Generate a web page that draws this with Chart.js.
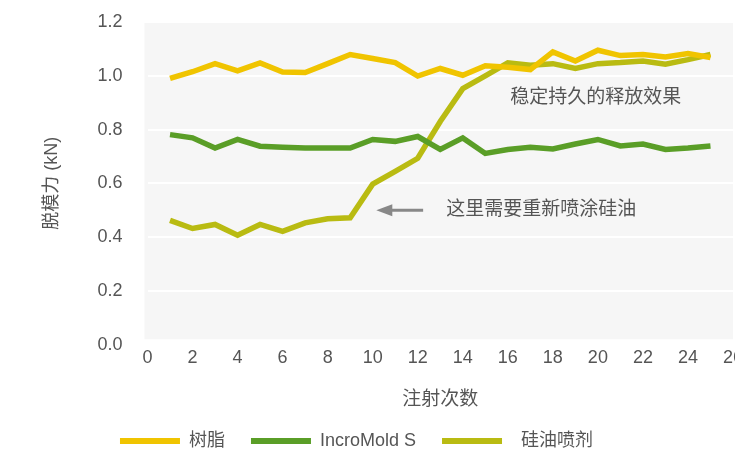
<!DOCTYPE html>
<html>
<head>
<meta charset="utf-8">
<script src="https://cdn.jsdelivr.net/npm/chart.js@4"></script>
<style>
    html, body { margin: 0; padding: 0; background: #ffffff; }
    #wrap { width: 735px; height: 457px; }
</style>
</head>
<body>
<div id="wrap"><canvas id="chart"></canvas></div>
<script>
// Injection count (x) and release force values (kN)
const shots = [1, 2, 3, 4, 5, 6, 7, 8, 9, 10, 11, 12, 13, 14, 15, 16, 17, 18, 19, 20, 21, 22, 23, 24, 25];
const resin = [0.99, 1.015, 1.045, 1.018, 1.048, 1.014, 1.012, 1.045, 1.079, 1.064, 1.049, 0.999, 1.027,
               1.002, 1.037, 1.032, 1.023, 1.089, 1.055, 1.095, 1.075, 1.079, 1.07, 1.083, 1.068];
const incroMold = [0.781, 0.769, 0.731, 0.763, 0.738, 0.734, 0.731, 0.731, 0.731, 0.763, 0.756, 0.774, 0.726,
                   0.769, 0.711, 0.726, 0.734, 0.728, 0.746, 0.763, 0.739, 0.746, 0.726, 0.731, 0.739];
const siliconeSpray = [0.462, 0.432, 0.447, 0.407, 0.447, 0.421, 0.453, 0.468, 0.472, 0.597, 0.644, 0.693, 0.83,
                       0.952, 1.0, 1.048, 1.039, 1.045, 1.027, 1.045, 1.049, 1.055, 1.043, 1.06, 1.079];
const seriesNames = ['树脂', 'IncroMold S', '  硅油喷剂'];
const seriesColors = ['#f0c400', '#5a9e27', '#b9bb12'];

// Annotation texts, anchored in data coordinates
const noteStable = { text: '稳定持久的释放效果', x: 19.9, y: 0.92 };
const noteRespray = { text: '这里需要重新喷涂硅油', x: 13.27, y: 0.50 };
const arrowFrom = { x: 12.24, y: 0.50 };
const arrowTo = { x: 10.16, y: 0.50 };

const fontFamily = '"Liberation Sans", "Noto Sans CJK SC", sans-serif';
const textColor = '#555555';

// Grey plot background drawn before the grid
const plotBackground = {
    id: 'plotBackground',
    beforeDraw(chart) {
        const { ctx, chartArea, scales } = chart;
        ctx.save();
        ctx.fillStyle = '#f6f6f6';
        const bottom = scales.y.getPixelForValue(0.02);
        ctx.fillRect(chartArea.left - 3, chartArea.top + 1, chartArea.right - chartArea.left + 3, bottom - chartArea.top - 1);
        ctx.restore();
    }
};

// Legend sits a little left of centre in the original
const legendShift = {
    id: 'legendShift',
    afterLayout(chart) {
        chart.legend.left -= 10;
        chart.legend.right -= 10;
    }
};

// Text notes and arrow
const notes = {
    id: 'notes',
    afterDatasetsDraw(chart) {
        const { ctx, scales } = chart;
        const x = scales.x, y = scales.y;
        ctx.save();
        ctx.fillStyle = textColor;
        ctx.font = '19px ' + fontFamily;
        ctx.textBaseline = 'middle';
        ctx.textAlign = 'center';
        ctx.fillText(noteStable.text, x.getPixelForValue(noteStable.x), y.getPixelForValue(noteStable.y));
        ctx.textAlign = 'left';
        ctx.fillText(noteRespray.text, x.getPixelForValue(noteRespray.x), y.getPixelForValue(noteRespray.y));

        const x1 = x.getPixelForValue(arrowFrom.x), y1 = y.getPixelForValue(arrowFrom.y);
        const x2 = x.getPixelForValue(arrowTo.x), y2 = y.getPixelForValue(arrowTo.y);
        ctx.strokeStyle = '#888888';
        ctx.fillStyle = '#888888';
        ctx.lineWidth = 3;
        ctx.beginPath();
        ctx.moveTo(x1, y1);
        ctx.lineTo(x2 + 12, y2);
        ctx.stroke();
        ctx.beginPath();
        ctx.moveTo(x2, y2);
        ctx.lineTo(x2 + 16, y2 - 6);
        ctx.lineTo(x2 + 16, y2 + 6);
        ctx.closePath();
        ctx.fill();
        ctx.restore();
    }
};

const makeSeries = (name, values, color) => ({
    label: name,
    data: shots.map((s, i) => ({ x: s, y: values[i] })),
    borderColor: color,
    backgroundColor: color,
    borderWidth: 5.5,
    pointRadius: 0,
    tension: 0,
    borderJoinStyle: 'miter'
});

new Chart(document.getElementById('chart'), {
    type: 'line',
    data: {
        datasets: [
            makeSeries(seriesNames[0], resin, seriesColors[0]),
            makeSeries(seriesNames[1], incroMold, seriesColors[1]),
            makeSeries(seriesNames[2], siliconeSpray, seriesColors[2])
        ]
    },
    options: {
        responsive: true,
        maintainAspectRatio: false,
        animation: false,
        layout: {
            padding: { top: 22, right: 2, left: 0, bottom: -3 }
        },
        plugins: {
            legend: {
                display: true,
                position: 'bottom',
                labels: {
                    boxWidth: 60,
                    boxHeight: 6,
                    padding: 26,
                    color: textColor,
                    font: { size: 18, family: fontFamily },
                    generateLabels(chart) {
                        const items = Chart.defaults.plugins.legend.labels.generateLabels(chart);
                        items.forEach(it => { it.lineWidth = 0; });
                        return items;
                    }
                }
            },
            tooltip: { enabled: false }
        },
        scales: {
            x: {
                type: 'linear',
                min: 0,
                max: 26,
                grid: { display: false, drawTicks: false },
                border: { display: false },
                ticks: {
                    stepSize: 2,
                    padding: 3,
                    color: textColor,
                    font: { size: 18, family: fontFamily },
                    maxRotation: 0,
                    autoSkip: false
                },
                title: {
                    display: true,
                    text: '注射次数',
                    color: textColor,
                    font: { size: 19, family: fontFamily },
                    padding: { top: 16, bottom: -5 }
                },
                afterFit(scale) {
                    scale.paddingRight = 0;
                }
            },
            y: {
                min: 0,
                max: 1.2,
                grid: { color: '#ffffff', lineWidth: 2, drawTicks: false },
                border: { display: false },
                ticks: {
                    stepSize: 0.2,
                    padding: 25,
                    color: textColor,
                    font: { size: 18, family: fontFamily },
                    callback: v => v.toFixed(1)
                },
                title: {
                    display: true,
                    text: '脱模力 (kN)',
                    color: textColor,
                    font: { size: 18, family: fontFamily },
                    padding: { top: 41, bottom: 0 }
                },
                afterFit(scale) {
                    scale.width = 147.5;
                    scale.paddingTop = 0;
                    scale.paddingBottom = 0;
                }
            }
        }
    },
    plugins: [plotBackground, legendShift, notes]
});
</script>
</body>
</html>
